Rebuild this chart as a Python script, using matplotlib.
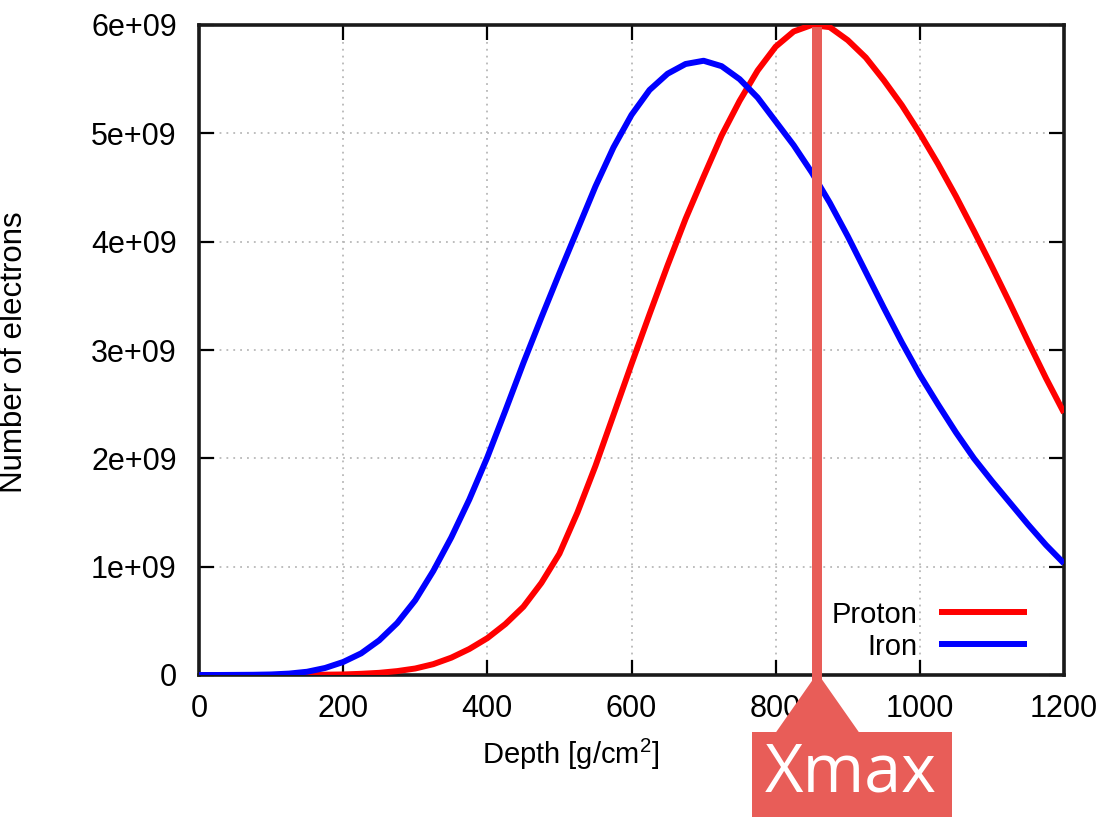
import matplotlib
matplotlib.use("Agg")
import matplotlib.pyplot as plt
from matplotlib.patches import Rectangle, Polygon
import numpy as np

plt.rcParams['font.family'] = ['Liberation Sans', 'DejaVu Sans']
plt.rcParams['mathtext.default'] = 'regular'

# Shower depth grid [g/cm^2] and electron counts (units of 1e9)
depth = [0, 25, 50, 75, 100, 125, 150, 175, 200, 225, 250, 275, 300, 325, 350,
         375, 400, 425, 450, 475, 500, 525, 550, 575, 600, 625, 650, 675, 700,
         725, 750, 775, 800, 825, 850, 875, 900, 925, 950, 975, 1000, 1025,
         1050, 1075, 1100, 1125, 1150, 1175, 1200]

proton_e9 = [0.0, 0.0, 0.0, 0.0, 0.0, 0.0005, 0.001, 0.003, 0.005, 0.011, 0.02,
             0.036, 0.06, 0.10, 0.16, 0.24, 0.34, 0.47, 0.63, 0.85, 1.12, 1.50,
             1.93, 2.40, 2.87, 3.33, 3.78, 4.21, 4.60, 4.98, 5.30, 5.58, 5.80,
             5.94, 6.00, 5.98, 5.86, 5.70, 5.49, 5.26, 5.00, 4.72, 4.42, 4.10,
             3.77, 3.43, 3.08, 2.74, 2.42]

iron_e9 = [0.0, 0.0, 0.001, 0.002, 0.005, 0.013, 0.03, 0.065, 0.12, 0.20, 0.32,
           0.48, 0.69, 0.96, 1.27, 1.62, 2.01, 2.44, 2.88, 3.30, 3.71, 4.11,
           4.51, 4.87, 5.17, 5.40, 5.55, 5.64, 5.67, 5.62, 5.50, 5.33, 5.11,
           4.89, 4.64, 4.36, 4.05, 3.72, 3.39, 3.07, 2.77, 2.50, 2.24, 2.00,
           1.79, 1.59, 1.39, 1.20, 1.03]

series_labels = ['Proton', 'Iron']
series_colors = ['#ff0000', '#0000ff']

x_ticks = [0, 200, 400, 600, 800, 1000, 1200]
y_ticks = [0, 1e9, 2e9, 3e9, 4e9, 5e9, 6e9]
y_tick_labels = ['0', '1e+09', '2e+09', '3e+09', '4e+09', '5e+09', '6e+09']

xmax_depth = 858  # depth of the proton shower maximum
xmax_text = 'Xmax'

W, H = 1107, 817
fig = plt.figure(figsize=(W / 100, H / 100), dpi=100)
ax = fig.add_axes([199 / W, 1 - 675 / H, 865 / W, 650 / H])

d = np.array(depth)
for vals, lab, col in zip([proton_e9, iron_e9], series_labels, series_colors):
    ax.plot(d, np.array(vals) * 1e9, color=col, lw=4.3, label=lab,
            solid_capstyle='butt', solid_joinstyle='round', zorder=3)

ax.set_xlim(0, 1200)
ax.set_ylim(0, 6e9)
ax.set_xticks(x_ticks)
ax.set_xticklabels([str(t) for t in x_ticks])
ax.set_yticks(y_ticks)
ax.set_yticklabels(y_tick_labels)

ax.grid(True, color='#b8b8b8', linestyle=(0, (1, 2.8)), linewidth=1.3)
ax.tick_params(direction='in', length=11, width=1.6, top=True, right=True,
               labelsize=22, colors='black')
ax.tick_params(axis='y', pad=16)
ax.tick_params(axis='x', pad=14)
for s in ax.spines.values():
    s.set_linewidth(2.6)
    s.set_color('#1a1a1a')

ax.set_xlabel('Depth [g/cm$^2$]', fontsize=21)
ax.set_ylabel('Number of electrons', fontsize=22.5)
ax.xaxis.set_label_coords(372 / 865, -0.095)
ax.yaxis.set_label_coords(-0.197, 0.496)

leg = ax.legend(loc='lower right', bbox_to_anchor=(0.957, 0.022),
                frameon=False, markerfirst=False, fontsize=21,
                handlelength=3.0, handletextpad=0.75, labelspacing=0.14,
                borderpad=0, borderaxespad=0)

# Xmax marker: a vertical bar through the plot ending in a callout box
fig.canvas.draw()
px_x = ax.transData.transform((xmax_depth, 0))[0]
fy = lambda py: 1 - py / H
fx = lambda px: px / W
callout = '#e85d58'
bar_w = 10
fig.patches.append(Rectangle((fx(px_x - bar_w / 2), fy(690)), bar_w / W,
                             fy(27) - fy(690), transform=fig.transFigure,
                             facecolor=callout, edgecolor='none', zorder=5))
fig.patches.append(Polygon([(fx(px_x), fy(673)), (fx(px_x - 42), fy(733)),
                            (fx(px_x + 42), fy(733))],
                           closed=True, transform=fig.transFigure,
                           facecolor=callout, edgecolor='none', zorder=5))
fig.patches.append(Rectangle((fx(752), fy(H + 5)), 200 / W, fy(732) - fy(H + 5),
                             transform=fig.transFigure, facecolor=callout,
                             edgecolor='none', zorder=5))
fig.text(fx(851), fy(774), xmax_text, color='white', fontsize=48,
         family=['Open Sans', 'DejaVu Sans'], ha='center', va='center',
         zorder=6)

fig.savefig('out.png', dpi=100, facecolor='white')
